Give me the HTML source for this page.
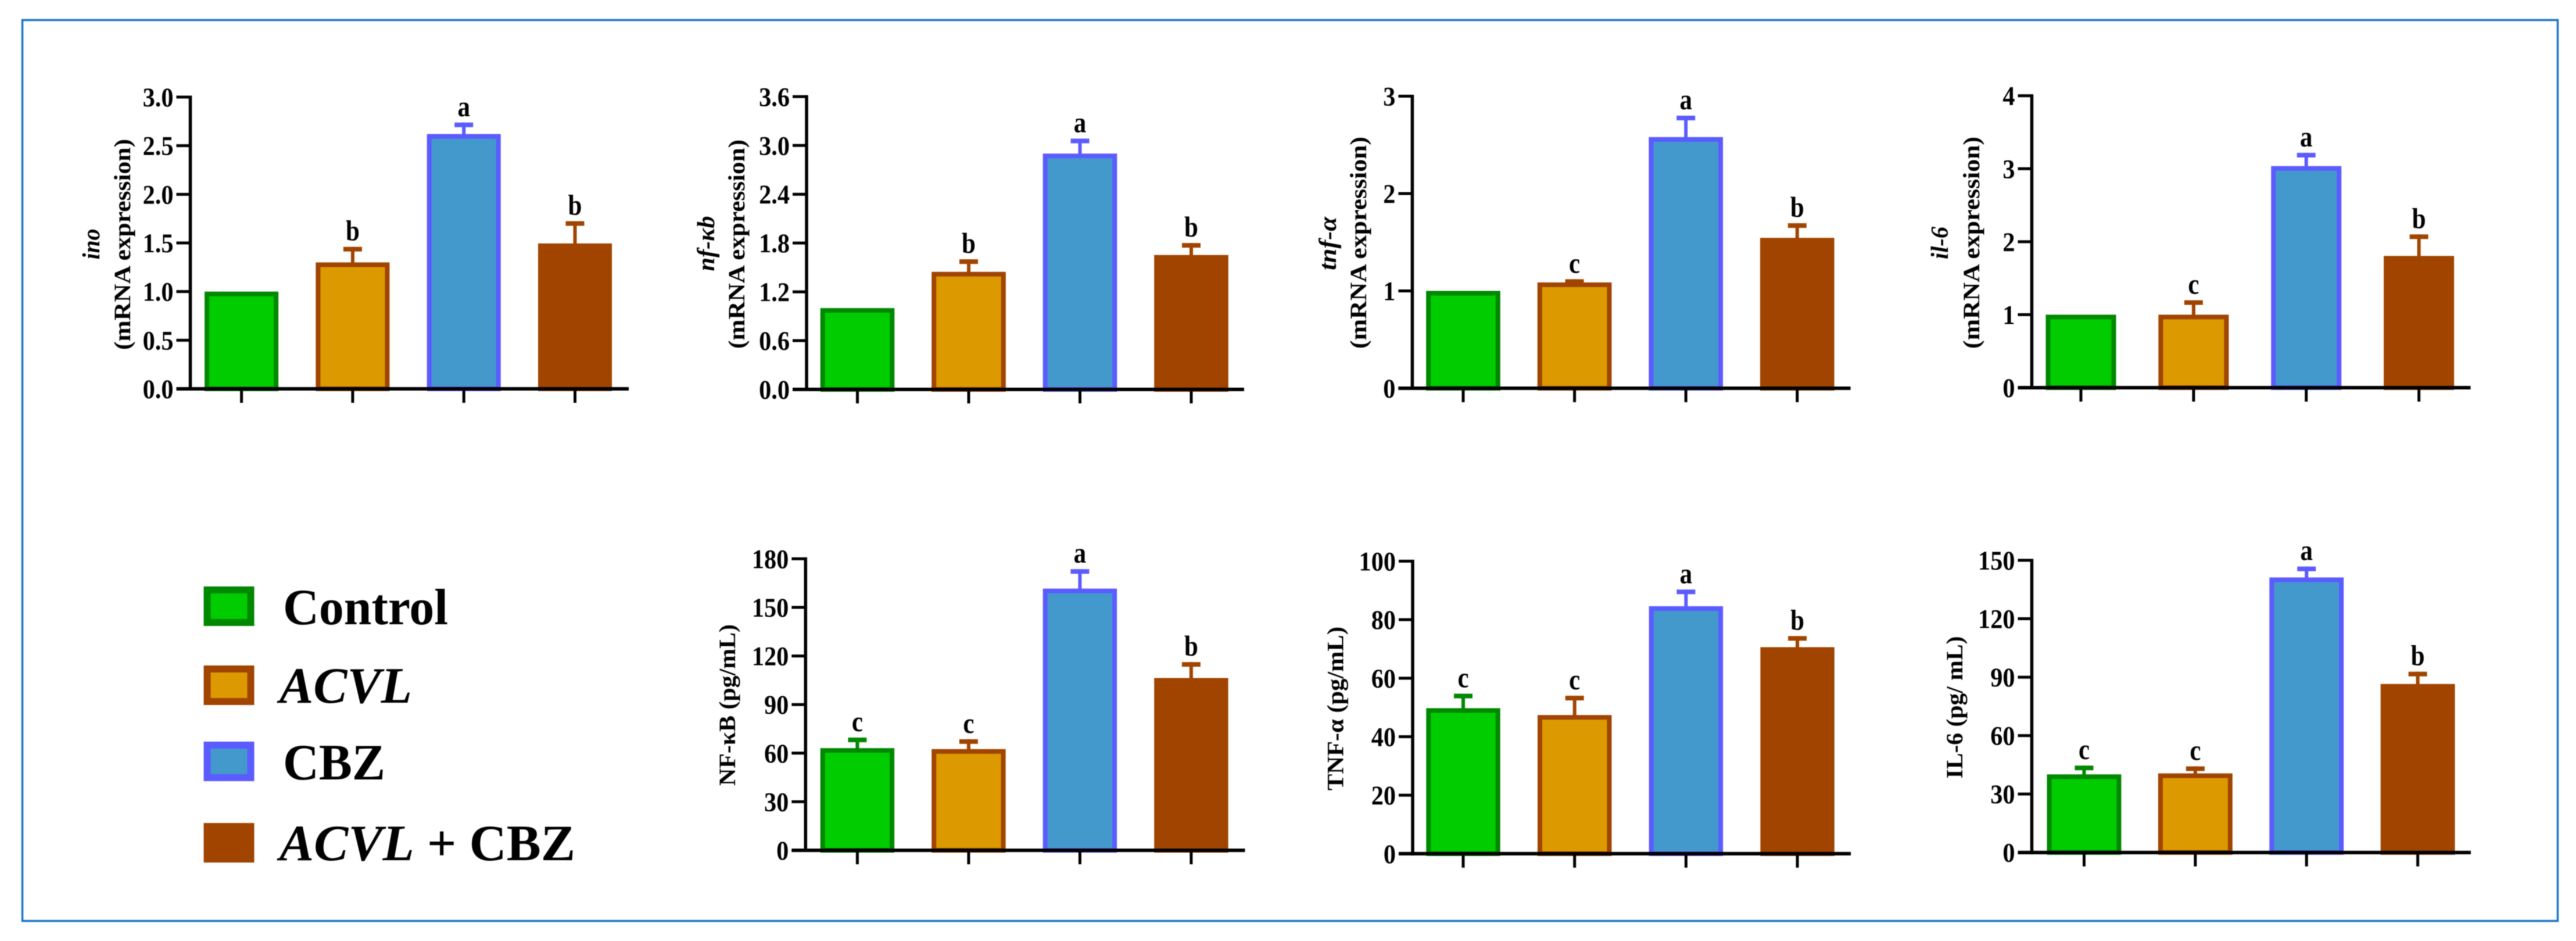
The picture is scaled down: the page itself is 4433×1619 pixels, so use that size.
<!DOCTYPE html>
<html lang="en">
<head>
<meta charset="utf-8">
<title>mRNA and protein expression bar charts</title>
<style>
html,body{margin:0;padding:0;background:#fff;}
svg{display:block;filter:blur(0.9px);}
text{font-family:"Liberation Serif","Noto Serif CJK SC",serif;fill:#000;}
</style>
</head>
<body>
<svg id="figure" xmlns="http://www.w3.org/2000/svg" width="4433" height="1619" viewBox="0 0 4433 1619">
  <rect x="0" y="0" width="4433" height="1619" fill="#ffffff"/>
  <rect x="38.5" y="34.5" width="4363" height="1550" fill="none" stroke="#1b75c6" stroke-width="3.5"/>
  <g>
    <g>
      <rect x="356.5" y="1015" width="75" height="56" fill="#00cc00" stroke="#008800" stroke-width="12"/>
      <text x="487" y="1074" font-size="88" font-weight="700" textLength="284" lengthAdjust="spacingAndGlyphs">Control</text>
    </g>
    <g>
      <rect x="356.5" y="1151" width="75" height="56" fill="#dd9900" stroke="#a04400" stroke-width="12"/>
      <text x="481" y="1209" font-size="88" font-weight="700" font-style="italic" textLength="228" lengthAdjust="spacingAndGlyphs">ACVL</text>
    </g>
    <g>
      <rect x="356.5" y="1282" width="75" height="56" fill="#4499cc" stroke="#5b5bff" stroke-width="12"/>
      <text x="487" y="1341" font-size="88" font-weight="700" textLength="176" lengthAdjust="spacingAndGlyphs">CBZ</text>
    </g>
    <g>
      <rect x="356.5" y="1422" width="75" height="56" fill="#a04400" stroke="#a04400" stroke-width="12"/>
      <text x="481" y="1480" font-size="88" font-weight="700" textLength="509" lengthAdjust="spacingAndGlyphs"><tspan font-style="italic">ACVL</tspan> + CBZ</text>
    </g>
  </g>
</svg>
<script>
// Chart data
const categories = ['Control', 'ACVL', 'CBZ', 'ACVL + CBZ'];

const inoTicks = ['0.0', '0.5', '1.0', '1.5', '2.0', '2.5', '3.0'];
const inoValues = [1.0, 1.30, 2.62, 1.495];
const inoErrors = [0, 0.16, 0.118, 0.229];
const inoLetters = ['', 'b', 'a', 'b'];

const nfkbGeneTicks = ['0.0', '0.6', '1.2', '1.8', '2.4', '3.0', '3.6'];
const nfkbGeneValues = [1.0, 1.446, 2.90, 1.653];
const nfkbGeneErrors = [0, 0.154, 0.184, 0.147];
const nfkbGeneLetters = ['', 'b', 'a', 'b'];

const tnfGeneTicks = ['0', '1', '2', '3'];
const tnfGeneValues = [1.0, 1.087, 2.58, 1.545];
const tnfGeneErrors = [0, 0.033, 0.22, 0.15];
const tnfGeneLetters = ['', 'c', 'a', 'b'];

const il6GeneTicks = ['0', '1', '2', '3', '4'];
const il6GeneValues = [1.0, 1.0, 3.036, 1.805];
const il6GeneErrors = [0, 0.198, 0.182, 0.295];
const il6GeneLetters = ['', 'c', 'a', 'b'];

const nfkbProteinTicks = ['0', '30', '60', '90', '120', '150', '180'];
const nfkbProteinValues = [63.1, 62.5, 161.6, 106.4];
const nfkbProteinErrors = [6.5, 6.1, 12.0, 9.8];
const nfkbProteinLetters = ['c', 'c', 'a', 'b'];

const tnfProteinTicks = ['0', '20', '40', '60', '80', '100'];
const tnfProteinValues = [49.75, 47.4, 84.6, 70.6];
const tnfProteinErrors = [4.95, 6.6, 5.7, 3.8];
const tnfProteinLetters = ['c', 'c', 'a', 'b'];

const il6ProteinTicks = ['0', '30', '60', '90', '120', '150'];
const il6ProteinValues = [40.1, 40.6, 141.2, 86.5];
const il6ProteinErrors = [4.5, 3.6, 5.6, 6.3];
const il6ProteinLetters = ['c', 'c', 'a', 'b'];

// Series styling
const fills = ['#00cc00', '#dd9900', '#4499cc', '#a04400'];
const strokes = ['#008800', '#a04400', '#5b5bff', '#a04400'];

// Panel layout
const panels = [
  {id:'ino', ticks:inoTicks, values:inoValues, errors:inoErrors, letters:inoLetters, axisX:327.5, y0:669, yTop:167, xEnd:1082, first:415.6, step:191.3, barW:127,
   main:'(mRNA  expression)', mainX:224, mainC:420.5, mainL:363, gene:'ino', geneX:171, geneC:420, geneL:53},
  {id:'nf-kb-gene', ticks:nfkbGeneTicks, values:nfkbGeneValues, errors:nfkbGeneErrors, letters:nfkbGeneLetters, axisX:1388, y0:670, yTop:166.3, xEnd:2141, first:1475.5, step:191.5, barW:127.6,
   main:'(mRNA  expression)', mainX:1281, mainC:420, mainL:360, gene:'nf-\u03BAb', geneX:1229, geneC:419, geneL:95},
  {id:'tnf-gene', ticks:tnfGeneTicks, values:tnfGeneValues, errors:tnfGeneErrors, letters:tnfGeneLetters, axisX:2430.4, y0:668, yTop:165.5, xEnd:3184.6, first:2518, step:191.6, barW:127.6,
   main:'(mRNA  expression)', mainX:2351, mainC:417.5, mainL:365, gene:'tnf-\u03B1', geneX:2299, geneC:419, geneL:92},
  {id:'il-6-gene', ticks:il6GeneTicks, values:il6GeneValues, errors:il6GeneErrors, letters:il6GeneLetters, axisX:3496.5, y0:667, yTop:164.7, xEnd:4251.6, first:3581, step:193.9, barW:121,
   main:'(mRNA  expression)', mainX:3406, mainC:417.5, mainL:365, gene:'il-6', geneX:3352, geneC:418, geneL:56},
  {id:'nf-kb-protein', ticks:nfkbProteinTicks, values:nfkbProteinValues, errors:nfkbProteinErrors, letters:nfkbProteinLetters, axisX:1386.3, y0:1463, yTop:961.4, xEnd:2142.5, first:1475.4, step:191.5, barW:127.4,
   main:'NF-\u03BAB  (pg/mL)', mainX:1265, mainC:1213, mainL:278},
  {id:'tnf-protein', ticks:tnfProteinTicks, values:tnfProteinValues, errors:tnfProteinErrors, letters:tnfProteinLetters, axisX:2431, y0:1468.8, yTop:965.5, xEnd:3185, first:2518, step:191.7, barW:127.4,
   main:'TNF-\u03B1  (pg/mL)', mainX:2311.7, mainC:1219, mainL:282},
  {id:'il-6-protein', ticks:il6ProteinTicks, values:il6ProteinValues, errors:il6ProteinErrors, letters:il6ProteinLetters, axisX:3496.5, y0:1466.7, yTop:964, xEnd:4252, first:3586.5, step:191.4, barW:127.9,
   main:'IL-6 (pg/ mL)', mainX:3377, mainC:1217, mainL:245}
];

const SVG_NS = 'http://www.w3.org/2000/svg';
const figure = document.getElementById('figure');

function make(parent, tag, attrs, text) {
  const node = document.createElementNS(SVG_NS, tag);
  for (const key in attrs) node.setAttribute(key, attrs[key]);
  if (text !== undefined) node.textContent = text;
  parent.appendChild(node);
  return node;
}

function drawPanel(p) {
  const maxValue = parseFloat(p.ticks[p.ticks.length - 1]);
  const yScale = function (v) { return p.y0 - (v / maxValue) * (p.y0 - p.yTop); };
  const xScale = function (i) { return p.first + i * p.step; };

  const chart = make(figure, 'g', {});
  
  

  // bars, error bars and significance letters
  p.values.forEach(function (value, i) {
    const cx = xScale(i);
    const top = yScale(value);
    const border = 8;
    const errTop = yScale(value + p.errors[i]);

    if (p.errors[i] > 0) {
      const stem = make(chart, 'line', {x1:cx, x2:cx, y1:errTop, y2:top + 2, stroke:strokes[i], 'stroke-width':6});
      
      
      const cap = make(chart, 'rect', {x:cx - 16, y:errTop, width:32, height:8, fill:strokes[i]});
      
      
    }

    const bar = make(chart, 'rect', {
      x: cx - p.barW / 2 + border / 2,
      y: top + border / 2,
      width: p.barW - border,
      height: Math.max(0, p.y0 - top - border / 2),
      fill: fills[i],
      stroke: strokes[i],
      'stroke-width': border
    });
    
    

    if (p.letters[i]) {
      const sig = make(chart, 'text', {x:0, y:0, 'font-size':50, 'font-weight':700, 'text-anchor':'middle',
        transform:'translate(' + cx + ' ' + (errTop - 11) + ') scale(0.86 1)'}, p.letters[i]);
      
      
    }

    const xTick = make(chart, 'line', {x1:cx, x2:cx, y1:p.y0, y2:p.y0 + 24, stroke:'#000', 'stroke-width':5});
    
    
  });

  // y ticks and labels
  p.ticks.forEach(function (label, i) {
    const y = yScale(parseFloat(label));
    const tick = make(chart, 'line', {x1:p.axisX - 24, x2:p.axisX, y1:y, y2:y, stroke:'#000', 'stroke-width':5});
    
    
    const tickLabel = make(chart, 'text', {x:0, y:0, 'font-size':47, 'font-weight':700, 'text-anchor':'end',
      transform:'translate(' + (p.axisX - 29) + ' ' + (y + 16) + ') scale(0.9 1)'}, label);
    
    
  });

  // axes
  const yAxis = make(chart, 'line', {x1:p.axisX, x2:p.axisX, y1:p.yTop - 2.5, y2:p.y0 + 3, stroke:'#000', 'stroke-width':5.5});
  
  
  const xAxis = make(chart, 'line', {x1:p.axisX - 24, x2:p.xEnd, y1:p.y0, y2:p.y0, stroke:'#000', 'stroke-width':6});
  
  

  // axis titles
  const title = make(chart, 'text', {
    x:p.mainX, y:p.mainC, 'font-size':40, 'font-weight':700, 'text-anchor':'middle',
    textLength:p.mainL, lengthAdjust:'spacingAndGlyphs', 'xml:space':'preserve',
    transform:'rotate(-90 ' + p.mainX + ' ' + p.mainC + ')'
  }, p.main);
  
  

  if (p.gene) {
    const gene = make(chart, 'text', {
      x:p.geneX, y:p.geneC, 'font-size':42, 'font-weight':700, 'font-style':'italic', 'text-anchor':'middle',
      textLength:p.geneL, lengthAdjust:'spacingAndGlyphs',
      transform:'rotate(-90 ' + p.geneX + ' ' + p.geneC + ')'
    }, p.gene);
    
    
  }
}

panels.forEach(drawPanel);
</script>
</body>
</html>
